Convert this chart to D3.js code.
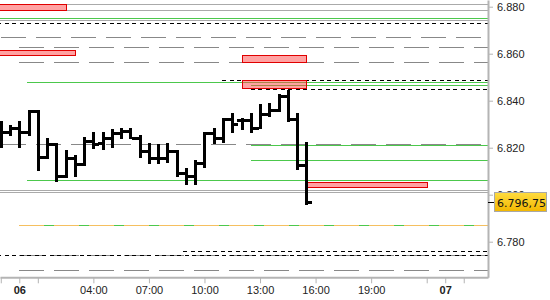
<!DOCTYPE html>
<html>
<head>
<meta charset="utf-8">
<script src="https://d3js.org/d3.v7.min.js"></script>
<style>
  body{ margin:0; background:#fff; }
  svg{ display:block; font-family:"DejaVu Sans", sans-serif; }
  .axis text{ font-size:11px; fill:#222; }
  .axis .domain{ stroke:#b4b4b4; stroke-width:2px; }
  .axis .tick line{ stroke:#b4b4b4; }
</style>
</head>
<body>
<script>
// 30 minute bars, time in session hours from 00:00 of the 6th
var barHours = [-1, -0.5, 0, 0.5, 1, 1.5, 2, 2.5, 3, 3.5, 4, 4.5, 5, 5.5, 6, 6.5, 7,
                7.5, 8, 8.5, 9, 9.5, 10, 10.5, 11, 11.5, 12, 12.5, 13, 13.5, 14, 14.5, 15, 15.5];
var opens  = [6.8267, 6.8267, 6.8285, 6.8267, 6.8356, 6.8159, 6.8217, 6.8080, 6.8155, 6.8132, 6.8229, 6.8221,
              6.8240, 6.8261, 6.8271, 6.8243, 6.8186, 6.8156, 6.8156, 6.8186, 6.8091, 6.8078, 6.8135, 6.8261,
              6.8241, 6.8321, 6.8317, 6.8317, 6.8285, 6.8342, 6.8360, 6.8420, 6.8322, 6.8126];
var highs  = [6.8315, 6.8297, 6.8315, 6.8360, 6.8360, 6.8241, 6.8219, 6.8190, 6.8169, 6.8247, 6.8266, 6.8266,
              6.8280, 6.8283, 6.8283, 6.8254, 6.8219, 6.8216, 6.8221, 6.8190, 6.8112, 6.8148, 6.8266, 6.8283,
              6.8325, 6.8346, 6.8325, 6.8346, 6.8386, 6.8389, 6.8429, 6.8446, 6.8349, 6.8226];
var lows   = [6.8204, 6.8254, 6.8204, 6.8254, 6.8105, 6.8156, 6.8058, 6.8074, 6.8080, 6.8126, 6.8197, 6.8193,
              6.8202, 6.8240, 6.8241, 6.8162, 6.8134, 6.8136, 6.8138, 6.8080, 6.8044, 6.8044, 6.8119, 6.8221,
              6.8226, 6.8268, 6.8278, 6.8268, 6.8284, 6.8335, 6.8357, 6.8314, 6.8108, 6.7960];
var closes = [6.8267, 6.8285, 6.8267, 6.8356, 6.8159, 6.8217, 6.8080, 6.8155, 6.8132, 6.8229, 6.8217, 6.8240,
              6.8261, 6.8271, 6.8243, 6.8186, 6.8156, 6.8156, 6.8186, 6.8091, 6.8078, 6.8135, 6.8261, 6.8241,
              6.8321, 6.8299, 6.8317, 6.8285, 6.8342, 6.8360, 6.8420, 6.8322, 6.8126, 6.79675];
var lastPrice = 6.79675;
var lastPriceText = "6.796,75";

// levels (price, first session hour)
var grayLevels      = [6.8810, 6.8785, 6.8742, 6.8020, 6.8010];
var grayDashLevels  = [6.8670, 6.8627, 6.8563, 6.8216, 6.7742, 6.7678];
var grayDashFrom    = [-1, 0, 0, -1, 0, 0];
var greenLevels     = [6.8751, 6.8478, 6.8466, 6.8212, 6.8146, 6.8061];
var greenFrom       = [-2, 0.4, 12.5, 12.5, 12.5, 0.4];
var blackDashLevels = [6.8729, 6.8487, 6.8449, 6.7762, 6.7745];
var blackDashFrom   = [-2, 10.95, 12.5, 8.84, -2];
var orangeLevels    = [6.7871];
var orangeFrom      = [0];

// supply zones
var zoneTop    = [6.8810, 6.8616, 6.8594, 6.8488, 6.8054];
var zoneBottom = [6.8787, 6.8593, 6.8565, 6.8455, 6.8032];
var zoneFrom   = [-2, -2, 12, 12, 15.5];
var zoneTo     = [2.5, 3, 15.5, 15.5, 22];

// axes
var priceTicks = [6.78, 6.80, 6.82, 6.84, 6.86, 6.88];
var timeTicks  = [-1, 0, 1, 4, 7, 10, 13, 16, 19, 22, 23, 24];
var timeLabels = ["", "06", "", "04:00", "07:00", "10:00", "13:00", "16:00", "19:00", "", "07", ""];
var dayTicks   = ["06", "07"];

var width = 550, height = 300;
var plotW = 488, plotH = 277.3;

var svg = d3.select("body").append("svg")
  .attr("width", width).attr("height", height);

var x = d3.scaleLinear().domain([-1.042, 25.31]).range([0, plotW]);
var y = d3.scaleLinear().domain([6.76485, 6.88285]).range([plotH, 0]);

function py(v){ return Math.round(y(v)) + 0.5; }

svg.append("clipPath").attr("id", "plot")
  .append("rect").attr("width", plotW).attr("height", plotH);

var plot = svg.append("g").attr("clip-path", "url(#plot)");

function drawLevels(levels, from, color, dash, offset){
  plot.append("g").selectAll("line")
    .data(levels)
    .enter()
    .append("line")
    .attr("x1", function(d,i){ return from ? x(from[i]) : 0; })
    .attr("x2", plotW)
    .attr("y1", function(d){ return py(d); })
    .attr("y2", function(d){ return py(d); })
    .attr("stroke", color)
    .attr("stroke-width", 1)
    .attr("stroke-dasharray", dash)
    .attr("stroke-dashoffset", offset || 0)
    .attr("shape-rendering", "crispEdges");
}

drawLevels(grayLevels, null, "#aaaaaa", null);
drawLevels(grayDashLevels, grayDashFrom, "#888888", "25,10");
drawLevels(greenLevels, greenFrom, "#4cc84c", null);
drawLevels(orangeLevels, orangeFrom, "#4cc84c", null);
drawLevels(orangeLevels, orangeFrom, "#f5c060", "25,10");
drawLevels(blackDashLevels, blackDashFrom, "#000", "4,3.5");

// zones
plot.append("g").selectAll("rect")
  .data(zoneTop)
  .enter()
  .append("rect")
  .attr("x", function(d,i){ return Math.round(x(zoneFrom[i])) + 0.5; })
  .attr("y", function(d){ return py(d); })
  .attr("width", function(d,i){ return Math.round(x(zoneTo[i])) - Math.round(x(zoneFrom[i])); })
  .attr("height", function(d,i){ return Math.round(y(zoneBottom[i])) - Math.round(y(d)); })
  .attr("fill", "rgba(255,70,70,0.5)")
  .attr("stroke", "#e00000")
  .attr("stroke-width", 1)
  .attr("shape-rendering", "crispEdges");

// OHLC bars
var bars = plot.append("g").selectAll("g")
  .data(barHours)
  .enter()
  .append("g");

bars.append("rect")
  .attr("x", function(d){ return Math.round(x(d)) - 1; })
  .attr("y", function(d,i){ return Math.round(y(highs[i])); })
  .attr("width", 3)
  .attr("height", function(d,i){ return Math.round(y(lows[i])) - Math.round(y(highs[i])) + 1; })
  .attr("fill", "#000");

bars.append("rect")
  .attr("x", function(d){ return Math.round(x(d)) - 5; })
  .attr("y", function(d,i){ return Math.round(y(opens[i])) - 1; })
  .attr("width", 4)
  .attr("height", 3)
  .attr("fill", "#000");

bars.append("rect")
  .attr("x", function(d){ return Math.round(x(d)) + 2; })
  .attr("y", function(d,i){ return Math.round(y(closes[i])) - 1; })
  .attr("width", 4)
  .attr("height", 3)
  .attr("fill", "#000");

// y axis
var yAxis = svg.append("g")
  .attr("class", "axis")
  .attr("transform", "translate(" + plotW + ",0)")
  .call(d3.axisRight(y).tickValues(priceTicks)
    .tickFormat(d3.format(".3f")).tickSize(5).tickPadding(4).tickSizeOuter(0));

// x axis
var xAxis = svg.append("g")
  .attr("class", "axis")
  .attr("transform", "translate(0," + plotH + ")")
  .call(d3.axisBottom(x).tickValues(timeTicks)
    .tickFormat(function(d,i){ return timeLabels[i]; }).tickSize(6).tickSizeOuter(0));

xAxis.selectAll(".tick text")
  .style("font-weight", function(d,i){ return dayTicks.indexOf(timeLabels[i]) >= 0 ? "bold" : "normal"; });

// last price marker
var grad = svg.append("defs").append("linearGradient")
  .attr("id", "gold").attr("x1", 0).attr("y1", 0).attr("x2", 0).attr("y2", 1);
grad.append("stop").attr("offset", "0%").attr("stop-color", "#ffdc40");
grad.append("stop").attr("offset", "100%").attr("stop-color", "#f2b700");

var ly = y(lastPrice);
svg.append("line")
  .attr("x1", plotW).attr("x2", plotW + 6)
  .attr("y1", Math.round(ly) + 0.5).attr("y2", Math.round(ly) + 0.5)
  .attr("stroke", "#000")
  .attr("shape-rendering", "crispEdges");

svg.append("rect")
  .attr("x", plotW + 6.5).attr("y", Math.round(ly) - 9.5)
  .attr("width", 52).attr("height", 19)
  .attr("fill", "url(#gold)")
  .attr("stroke", "#a8a8a8")
  .attr("shape-rendering", "crispEdges");

svg.append("text")
  .attr("x", plotW + 9).attr("y", Math.round(ly) + 5)
  .style("font-size", "11px")
  .attr("fill", "#111")
  .text(lastPriceText);
</script>
</body>
</html>
